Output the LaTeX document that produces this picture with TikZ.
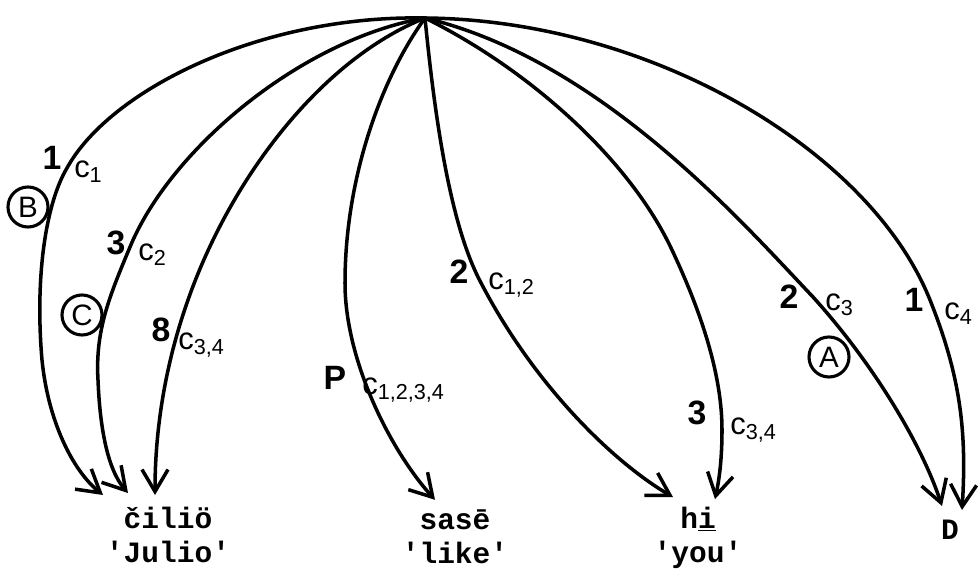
\documentclass[tikz,border=0pt]{standalone}
\usepackage{fontspec}
\setmainfont{Liberation Sans}
\setmonofont{Liberation Mono}
\usetikzlibrary{arrows.meta,calc}

\newcommand{\clab}[1]{c\textsubscript{#1}}

\begin{document}
\begin{tikzpicture}[
x=0.025cm, y=-0.025cm,
word/.style={font=\ttfamily\bfseries\fontsize{21}{24}\selectfont, align=center, inner sep=0pt},
num/.style={font=\bfseries\fontsize{24}{26}\selectfont, inner sep=0pt},
clabel/.style={font=\fontsize{22}{24}\selectfont, inner sep=0pt, anchor=west},
ring/.style={circle, draw, line width=2.2pt, inner sep=0pt, minimum size=1cm, font=\fontsize{21}{23}\selectfont},
arc/.style={-{Straight Barb[length=5.5mm,width=6.5mm]}, line width=2.5pt}
]
\useasboundingbox (0,0) rectangle (980,569);
\coordinate (top) at (425,18);
% words
\node[word] (julio) at (168,535) {čiliö\\'Julio'};
\node[word] (like) at (455,537) {sasē\\'like'};
\node[word] (you) at (698,538) {h\underline{i}\\'you'};
\node[word] (d) at (950,530) {D};
% labels on the arcs
\node[num] (n1) at (52,158) {1};
\node[clabel] (c1) at (74,172) {\clab{1}};
\node[ring] (rb) at (28,207) {B};
\node[num] (n2) at (116,243) {3};
\node[clabel] (c2) at (138,255) {\clab{2}};
\node[ring] (rc) at (82,315) {C};
\node[num] (n3) at (161,330) {8};
\node[clabel] (c3) at (178,345) {\clab{3,4}};
\node[num] (n4) at (335,378) {P};
\node[clabel] (c4) at (362,390) {\clab{1,2,3,4}};
\node[num] (n5) at (459,272) {2};
\node[clabel] (c5) at (488,285) {\clab{1,2}};
\node[num] (n6) at (697,413) {3};
\node[clabel] (c6) at (730,430) {\clab{3,4}};
\node[num] (n7) at (789,297) {2};
\node[clabel] (c7) at (825,305) {\clab{3}};
\node[ring] (ra) at (829,357) {A};
\node[num] (n8) at (914,300) {1};
\node[clabel] (c8) at (944,314) {\clab{4}};
% arcs
\draw[arc] (top) .. controls (260,15) and (110,90) .. (67,168)
  .. controls (45,205) and (35,280) .. (42,360)
  .. controls (48,420) and (72,470) .. ($(julio.north)+(-65,-12)$);
\draw[arc] (top) .. controls (300,40) and (170,150) .. (130,247)
  .. controls (110,295) and (95,330) .. (98,380)
  .. controls (100,430) and (108,470) .. ($(julio.north)+(-40,-14)$);
\draw[arc] (top) .. controls (320,60) and (230,180) .. (188,300)
  .. controls (165,365) and (155,430) .. ($(julio.north)+(-13,-12)$);
\draw[arc] (top) .. controls (380,80) and (345,180) .. (345,283)
  .. controls (345,360) and (390,450) .. ($(like.north)+(-20,-10)$);
\draw[arc] (top) .. controls (435,120) and (450,220) .. (478,277)
  .. controls (530,380) and (610,460) .. ($(you.north)+(-25,-10)$);
\draw[arc] (top) .. controls (530,70) and (630,160) .. (672,250)
  .. controls (705,320) and (722,380) .. (722,430)
  .. controls (722,465) and (718,485) .. ($(you.north)+(17,-8)$);
\draw[arc] (top) .. controls (600,60) and (740,220) .. (813,297)
  .. controls (870,360) and (920,440) .. ($(d.north)+(-8,-14)$);
\draw[arc] (top) .. controls (650,20) and (870,150) .. (930,300)
  .. controls (960,375) and (967,430) .. ($(d.north)+(12,-10)$);
\end{tikzpicture}
\end{document}
